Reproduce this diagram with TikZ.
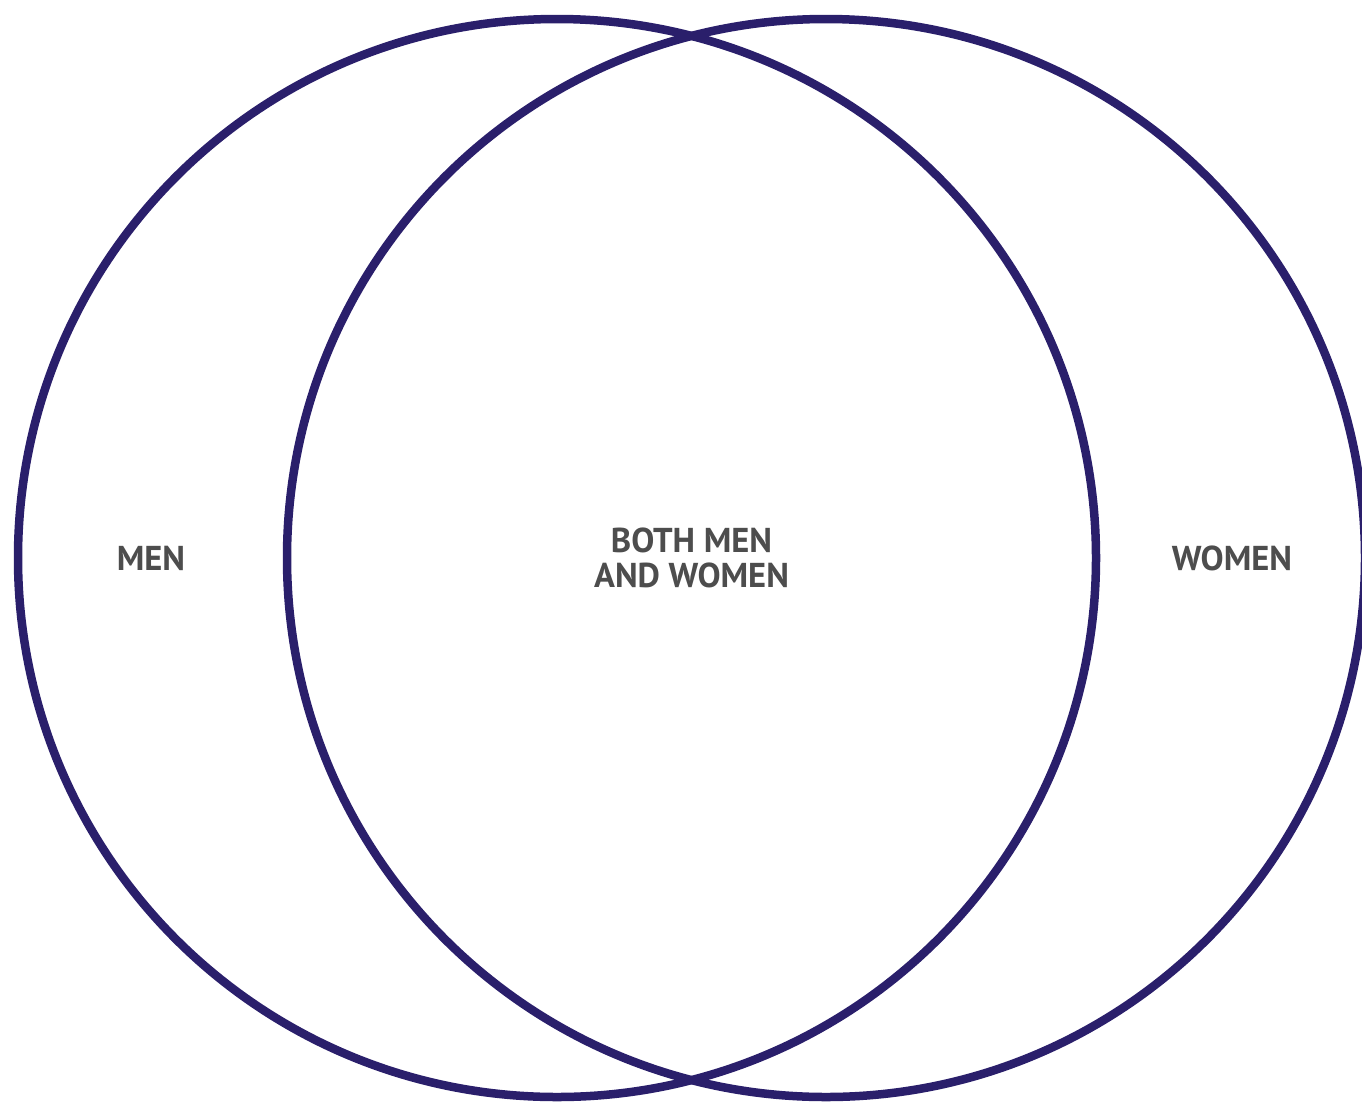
\documentclass[tikz,border=0pt]{standalone}
\usepackage{fontspec}
\setmainfont{PT Sans}
\usetikzlibrary{positioning}
\definecolor{navy}{HTML}{2A1F6B}
\definecolor{ink}{HTML}{4D4D4D}
\tikzset{
  ring/.style={draw=navy,line width=8.5pt},
  tag/.style={text=ink,font=\fontsize{34.5}{35}\selectfont\bfseries,align=center,inner sep=0pt}
}
\begin{document}
\begin{tikzpicture}[x=1pt,y=-1pt]
  \useasboundingbox (0,0) rectangle (1362,1101);
  \draw[ring] (557,558) circle[radius=539];
  \draw[ring] (826,558) circle[radius=539];
  \node[tag] (men) at (151,558) {MEN};
  \node[tag] (both) at (691.5,558) {BOTH MEN\\AND WOMEN};
  \node[tag] (women) at (1232,558) {WOMEN};
\end{tikzpicture}
\end{document}
